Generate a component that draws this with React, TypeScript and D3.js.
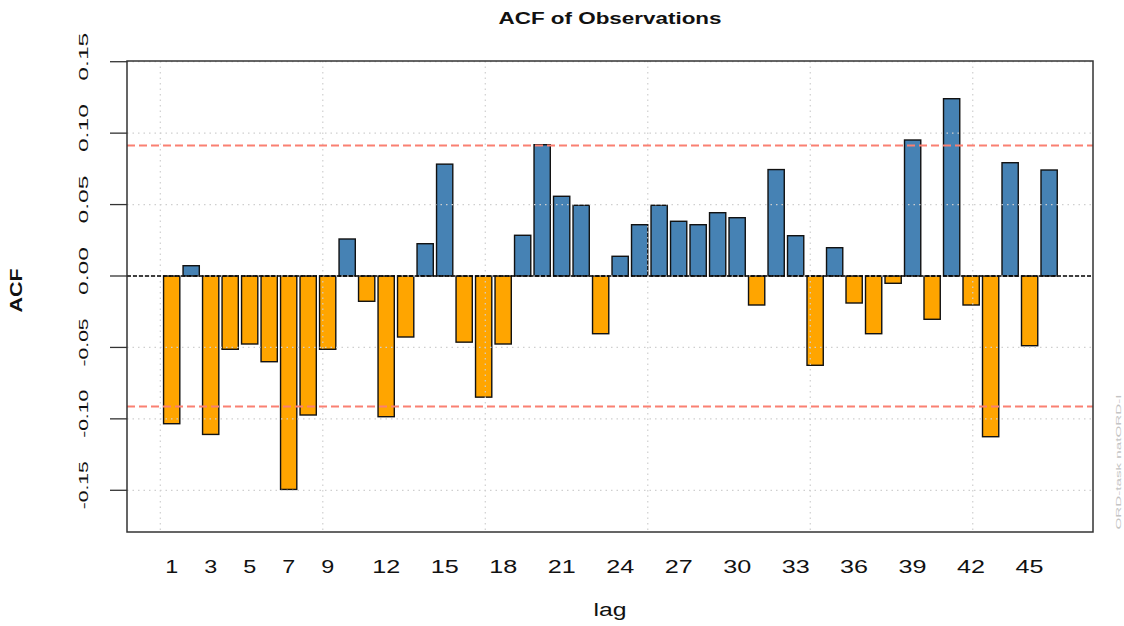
import React from "react";
import * as d3 from "d3";

const lags = [1, 2, 3, 4, 5, 6, 7, 8, 9, 10, 11, 12, 13, 14, 15, 16, 17, 18, 19, 20, 21, 22, 23, 24, 25, 26, 27, 28, 29, 30, 31, 32, 33, 34, 35, 36, 37, 38, 39, 40, 41, 42, 43, 44, 45, 46];
const acfValues = [
  -0.1034, 0.0072, -0.1109, -0.0513, -0.0476, -0.06, -0.1494, -0.0973, -0.0513, 0.0259,
  -0.0177, -0.0985, -0.0427, 0.0226, 0.0783, -0.0463, -0.0848, -0.0476, 0.0285, 0.0919,
  0.0558, 0.0495, -0.0404, 0.0138, 0.0359, 0.0495, 0.0383, 0.0359, 0.0443, 0.0408,
  -0.0203, 0.0745, 0.0282, -0.0625, 0.0198, -0.0189, -0.0404, -0.0051, 0.0952, -0.0303,
  0.1241, -0.0203, -0.1125, 0.0793, -0.0488, 0.0742,
];
const xTickLabels = [1, 3, 5, 7, 9, 12, 15, 18, 21, 24, 27, 30, 33, 36, 39, 42, 45];
const yTicks = [-0.15, -0.1, -0.05, 0, 0.05, 0.1, 0.15];
const yTickLabels = ["-0.15", "-0.10", "-0.05", "0.00", "0.05", "0.10", "0.15"];
const xGrid = [0, 10, 20, 30, 40, 50];
const ciBound = 0.0913;

const W = 1124;
const H = 626;
const L = 127, R = 1093, T = 61, B = 532;

export default function App() {
  // barplot coordinates: bar i centered at 1.2*i - 0.5, width 1
  const x = d3.scaleLinear().domain([-2.05, 57.4]).range([L, R]);
  const y = d3.scaleLinear().domain([-0.1792, 0.1505]).range([B, T]);
  const center = (lag: number) => 1.2 * lag - 0.5;
  const font = "'Liberation Sans', Arial, sans-serif";

  return (
    <svg
      width={W}
      height={H}
      style={{ position: "absolute", left: 0, top: 0, background: "#fff" }}
      fontFamily={font}
    >
      <rect x={0} y={0} width={W} height={H} fill="#fff" />
      {/* bars */}
      {lags.map((lag, i) => {
        const v = acfValues[i];
        const x0 = x(center(lag) - 0.5);
        const x1 = x(center(lag) + 0.5);
        const y0 = y(Math.max(0, v));
        const y1 = y(Math.min(0, v));
        return (
          <rect
            key={lag}
            x={x0}
            y={y0}
            width={x1 - x0}
            height={y1 - y0}
            fill={v >= 0 ? "#4682B4" : "#FFA500"}
            stroke="#111"
            strokeWidth={1.4}
          />
        );
      })}
      {/* grid */}
      {yTicks.map((t) => (
        <line
          key={"gy" + t}
          x1={L}
          x2={R}
          y1={y(t)}
          y2={y(t)}
          stroke="#cfcfcf"
          strokeWidth={1.2}
          strokeDasharray="1.5 4"
        />
      ))}
      {xGrid.map((g) => (
        <line
          key={"gx" + g}
          x1={x(g)}
          x2={x(g)}
          y1={T}
          y2={B}
          stroke="#cfcfcf"
          strokeWidth={1.2}
          strokeDasharray="1.5 4"
        />
      ))}
      {/* zero line */}
      <line x1={L} x2={R} y1={y(0)} y2={y(0)} stroke="#000" strokeWidth={1.5} strokeDasharray="4 2" />
      {/* confidence bounds */}
      {[ciBound, -ciBound].map((c) => (
        <line
          key={"ci" + c}
          x1={L}
          x2={R}
          y1={y(c)}
          y2={y(c)}
          stroke="#FA8072"
          strokeWidth={2}
          strokeDasharray="8 4"
        />
      ))}
      {/* box */}
      <rect x={L} y={T} width={R - L} height={B - T} fill="none" stroke="#333" strokeWidth={1.5} />
      {/* y axis ticks */}
      {yTicks.map((t, i) => (
        <g key={"yt" + t}>
          <line x1={L - 17} x2={L} y1={y(t)} y2={y(t)} stroke="#333" strokeWidth={1.3} />
          <text
            transform={`translate(88,${y(t) - 5}) rotate(-90)`}
            textAnchor="middle"
            fontSize={12}
            textLength={48}
            lengthAdjust="spacingAndGlyphs"
            fill="#111"
          >
            {yTickLabels[i]}
          </text>
        </g>
      ))}
      {/* x tick labels */}
      {xTickLabels.map((lab) => (
        <text
          key={"xl" + lab}
          x={x(center(lab))}
          y={573}
          textAnchor="middle"
          fontSize={18}
          textLength={String(lab).length > 1 ? 28 : 13}
          lengthAdjust="spacingAndGlyphs"
          fill="#111"
        >
          {lab}
        </text>
      ))}
      {/* titles */}
      <text
        x={(L + R) / 2}
        y={24}
        textAnchor="middle"
        fontSize={16}
        fontWeight="bold"
        textLength={223}
        lengthAdjust="spacingAndGlyphs"
        fill="#111"
      >
        ACF of Observations
      </text>
      <text
        x={(L + R) / 2}
        y={616}
        textAnchor="middle"
        fontSize={18}
        textLength={33}
        lengthAdjust="spacingAndGlyphs"
        fill="#111"
      >
        lag
      </text>
      <text
        transform={`translate(22,${(T + B) / 2 - 6}) rotate(-90)`}
        textAnchor="middle"
        fontSize={16}
        fontWeight="bold"
        textLength={44}
        lengthAdjust="spacingAndGlyphs"
        fill="#111"
      >
        ACF
      </text>
      {/* watermark */}
      <text
        transform={`translate(1121,${462}) rotate(-90)`}
        textAnchor="middle"
        fontSize={8}
        textLength={135}
        lengthAdjust="spacingAndGlyphs"
        fill="#c4c4c4"
      >
        ORD-task natORD-I
      </text>
    </svg>
  );
}
